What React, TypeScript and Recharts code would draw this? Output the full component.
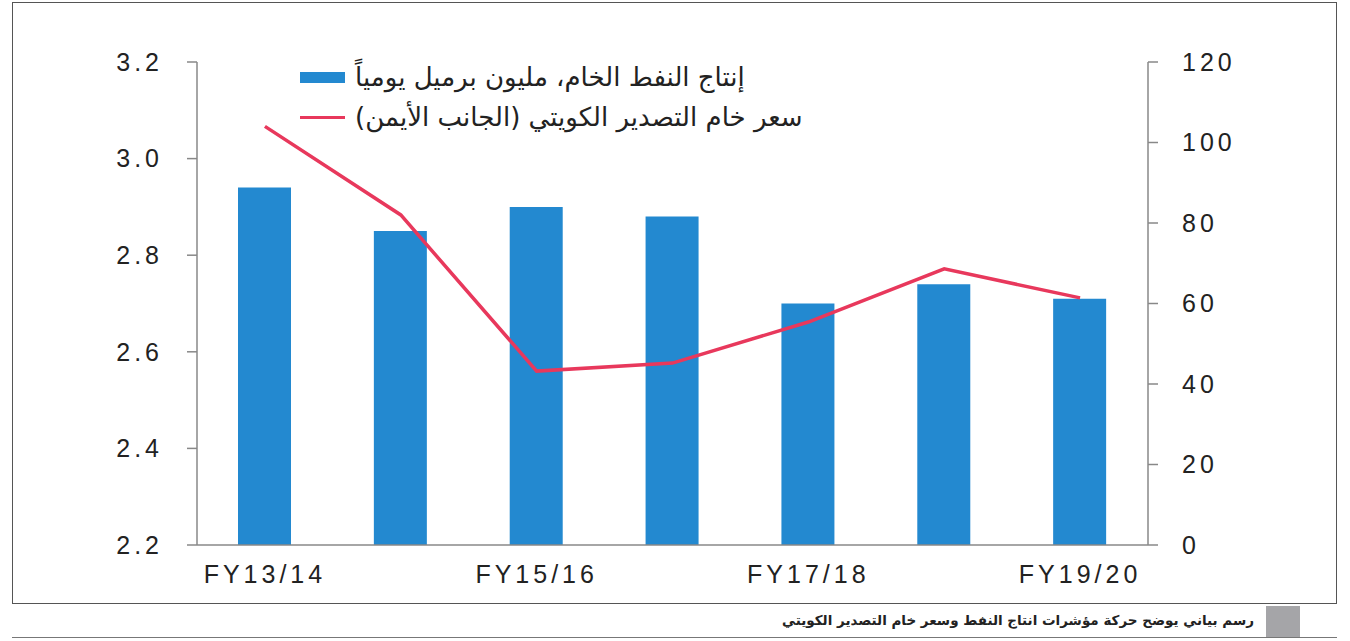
import { ComposedChart, Bar, Line, XAxis, YAxis } from "recharts";

const years = ["FY13/14", "FY14/15", "FY15/16", "FY16/17", "FY17/18", "FY18/19", "FY19/20"];
const production = [2.94, 2.85, 2.9, 2.88, 2.7, 2.74, 2.71];
const price = [104, 82, 43.2, 45.2, 55.4, 68.6, 61.4];
const leftTicks = [2.2, 2.4, 2.6, 2.8, 3.0, 3.2];
const rightTicks = [0, 20, 40, 60, 80, 100, 120];

const barLabel = "إنتاج النفط الخام، مليون برميل يومياً";
const lineLabel = "سعر خام التصدير الكويتي (الجانب الأيمن)";
const caption = "رسم بياني يوضح حركة مؤشرات انتاج النفط وسعر خام التصدير الكويتي";

const data = years.map((y, i) => ({ year: y, production: production[i], price: price[i] }));

const tickStyle = { fontFamily: "Liberation Sans, Arial, sans-serif", fontSize: 25, fill: "#222", letterSpacing: 4 };

// legend drawn as an overlay so it does not shrink the plot
function ChartLegend() {
    const row = { display: "flex", alignItems: "center", height: 40 } as const;
    const txt = { fontFamily: "DejaVu Sans", fontSize: 26, color: "#222", marginLeft: 10, direction: "rtl", whiteSpace: "nowrap" } as const;
    return (
        <div style={{ position: "absolute", left: 300, top: 57 }}>
            <div style={row}>
                <div style={{ width: 45, height: 11, background: "#2389d0" }} />
                <span style={txt}>{barLabel}</span>
            </div>
            <div style={row}>
                <div style={{ width: 45, height: 3, background: "#e8385c" }} />
                <span style={txt}>{lineLabel}</span>
            </div>
        </div>
    );
}

export default function App() {
    return (
        <div style={{ position: "absolute", left: 0, top: 0, width: 1350, height: 641, background: "#fff" }}>
            <div style={{ position: "absolute", left: 12, top: 2, width: 1323, height: 600, border: "1.5px solid #555" }} />
            <div style={{ position: "absolute", left: 0, top: 0 }}>
                <ComposedChart
                    width={1350}
                    height={600}
                    data={data}
                    margin={{ top: 62, right: 122, bottom: 15, left: 117 }}
                >
                    <XAxis
                        dataKey="year"
                        interval={1}
                        tickLine={false}
                        axisLine={{ stroke: "#888", strokeWidth: 1.5 }}
                        tick={tickStyle}
                        tickMargin={14}
                        height={40}
                    />
                    <YAxis
                        yAxisId="left"
                        domain={[2.2, 3.2]}
                        ticks={leftTicks}
                        tickFormatter={(v: number) => v.toFixed(1)}
                        width={80}
                        tickSize={10}
                        tickMargin={24}
                        tick={tickStyle}
                        axisLine={{ stroke: "#888", strokeWidth: 1.5 }}
                        tickLine={{ stroke: "#888", strokeWidth: 1.5 }}
                    />
                    <YAxis
                        yAxisId="right"
                        orientation="right"
                        domain={[0, 120]}
                        ticks={rightTicks}
                        width={80}
                        tickSize={10}
                        tickMargin={24}
                        tick={tickStyle}
                        axisLine={{ stroke: "#888", strokeWidth: 1.5 }}
                        tickLine={{ stroke: "#888", strokeWidth: 1.5 }}
                    />
                    <Bar
                        yAxisId="left"
                        dataKey="production"
                        fill="#2389d0"
                        barSize={53}
                        isAnimationActive={false}
                    />
                    <Line
                        yAxisId="right"
                        dataKey="price"
                        type="linear"
                        stroke="#e8385c"
                        strokeWidth={3.5}
                        dot={false}
                        isAnimationActive={false}
                    />
                </ComposedChart>
            </div>
            <ChartLegend />
            <div style={{ position: "absolute", left: 1266, top: 606, width: 34, height: 31, background: "#a5a5a8" }} />
            <div
                style={{
                    position: "absolute",
                    right: 1350 - 1254,
                    top: 612,
                    fontFamily: "DejaVu Sans",
                    fontWeight: "bold",
                    fontSize: 13.5,
                    color: "#222",
                    direction: "rtl",
                    whiteSpace: "nowrap",
                }}
            >
                {caption}
            </div>
            <div style={{ position: "absolute", left: 12, top: 637, width: 1325, height: 0, borderTop: "1.5px solid #777" }} />
        </div>
    );
}
